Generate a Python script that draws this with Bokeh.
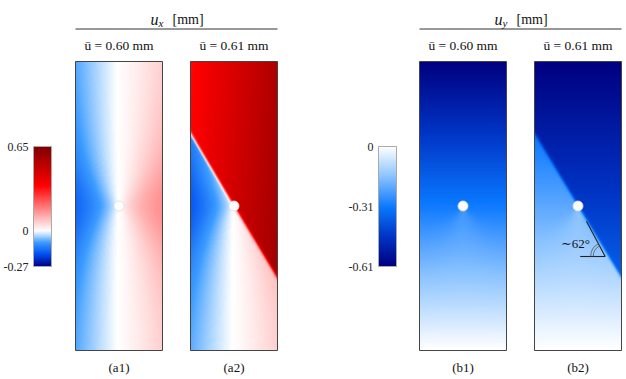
import numpy as np
from bokeh.plotting import figure
from bokeh.models import Range1d, LinearColorMapper
from bokeh.core.properties import value
from bokeh.embed import file_html
from bokeh.resources import INLINE

# ---------------- data ----------------
group_titles = ["u", "u"]
group_subs = ["x", "y"]
panel_titles = ["ū = 0.60 mm", "ū = 0.61 mm", "ū = 0.60 mm", "ū = 0.61 mm"]
panel_labels = ["(a1)", "(a2)", "(b1)", "(b2)"]
ux_ticks = [0.65, 0.0, -0.27]
ux_tick_labels = ["0.65", "0", "-0.27"]
uy_ticks = [0.0, -0.31, -0.61]
uy_tick_labels = ["0", "-0.31", "-0.61"]
ux_low, ux_high = -0.27, 0.65
uy_low, uy_high = -0.61, 0.0
ux_cmap_vals = [-0.27, -0.18, -0.09, 0.0, 0.12, 0.35, 0.65]
ux_cmap_cols = ["#00008b", "#0050f0", "#3c9cff", "#ffffff", "#ffa8a8", "#ff0000", "#800000"]
uy_cmap_vals = [-0.61, -0.46, -0.31, -0.15, 0.0]
uy_cmap_cols = ["#000080", "#0034c4", "#0a78ff", "#8cc4ff", "#ffffff"]
# field key values (mm)
ux1_left, ux1_right = -0.065, 0.05            # a1 edge values far from hole
ux1_amp_left, ux1_amp_right = 0.10, 0.12      # a1 hole wedge amplitudes
ux1_zero_s = 0.47                             # white stripe position
ux2_left_bottom, ux2_left_top = -0.06, -0.10  # a2 lower part, left edge
ux2_right = 0.05
ux2_block_base, ux2_block_dx, ux2_block_dy = 0.34, 0.20, 0.04  # a2 sliding block
uy1_top, uy1_bottom = -0.61, 0.0             # b1
uy1_hole_amp = 0.05
uy2_lower_top = -0.42                         # b2 lower part at top level
uy2_block_top, uy2_block_bottom = -0.61, -0.28
band_angle_deg = 59.0                         # measured band inclination
annot_angle_deg = 62.0                        # annotated angle
hole_s, hole_t = 0.5, 0.5                     # hole centre (fraction of width/height)

# ---------------- layout (page pixels) ----------------
W, H = 626, 379
panel_x = [75, 190, 419, 534]
panel_top, panel_bot = 61, 350
panel_w = 87
panel_h = panel_bot - panel_top
hole_r = 5.0

p = figure(width=W, height=H, output_backend="svg", toolbar_location=None,
           x_range=Range1d(0, W), y_range=Range1d(-H, 0),
           x_axis_location=None, y_axis_location=None, min_border=0)
p.grid.visible = False
p.outline_line_color = None
p.background_fill_color = "white"
p.border_fill_color = "white"


def make_palette(vals, cols, lo, hi, n=256):
    rgb = np.array([[int(c[i:i + 2], 16) for i in (1, 3, 5)] for c in cols], float)
    v = np.linspace(lo, hi, n)
    chans = [np.interp(v, vals, rgb[:, k]) for k in range(3)]
    return ["#%02x%02x%02x" % (int(round(r)), int(round(g)), int(round(b)))
            for r, g, b in zip(*chans)]


ux_mapper = LinearColorMapper(palette=make_palette(ux_cmap_vals, ux_cmap_cols, ux_low, ux_high),
                              low=ux_low, high=ux_high)
uy_mapper = LinearColorMapper(palette=make_palette(uy_cmap_vals, uy_cmap_cols, uy_low, uy_high),
                              low=uy_low, high=uy_high)

# specimen grid
nx, ny = panel_w * 2, panel_h * 2
X = (np.arange(nx) + 0.5) / 2.0
Y = (np.arange(ny) + 0.5) / 2.0
XX, YY = np.meshgrid(X, Y)
S, T = XX / panel_w, YY / panel_h
Xh, Yh = hole_s * panel_w, hole_t * panel_h
dx, dy = XX - Xh, YY - Yh
R = np.hypot(dx, dy) + 1e-9
cos_t = dx / R
sin_t = dy / R
phi = np.radians(band_angle_deg)
D = dx * np.sin(phi) + dy * np.cos(phi)   # signed distance to band (positive: upper-right block)
blend = 1.0 / (1.0 + np.exp(-D / 0.7))
grow = 1.0 - np.exp(-R / 20.0)
wedge = np.where(cos_t < 0, -ux1_amp_left, ux1_amp_right) * np.abs(cos_t) ** 1.6 * grow

# a1
ux_a1 = np.interp(S, [0, ux1_zero_s, 1], [ux1_left, 0.0, ux1_right]) + wedge
# a2
left_edge = ux2_left_bottom + (ux2_left_top - ux2_left_bottom) * T
lower = np.where(S < ux1_zero_s, left_edge * (1 - S / ux1_zero_s),
                 ux2_right * (S - ux1_zero_s) / (1 - ux1_zero_s)) + wedge
block = ux2_block_base + ux2_block_dx * S + ux2_block_dy * (1 - T)
ux_a2 = lower + (block - lower) * blend
# b1
below = uy1_hole_amp * np.clip(-sin_t, 0, None) ** 4 * np.exp(-(R - hole_r) / 40.0)
uy_b1 = uy1_bottom + (uy1_top - uy1_bottom) * T + below
# b2
lower_y = uy2_lower_top * T + below
block_y = uy2_block_bottom + (uy2_block_top - uy2_block_bottom) * T
uy_b2 = lower_y + (block_y - lower_y) * blend

fields = [(ux_a1, ux_mapper), (ux_a2, ux_mapper), (uy_b1, uy_mapper), (uy_b2, uy_mapper)]
for (fld, mapper), x0 in zip(fields, panel_x):
    p.image(image=[fld], x=x0, y=-panel_bot, dw=panel_w, dh=panel_h, color_mapper=mapper)
    p.quad(left=x0, right=x0 + panel_w, bottom=-panel_bot, top=-panel_top,
           fill_color=None, line_color="#444444", line_width=1)

# holes
p.scatter(x=[x0 + Xh for x0 in panel_x], y=[-(panel_bot - Yh)] * 4, size=2 * hole_r,
          fill_color="white", line_color="#dddddd", line_width=0.8)

SERIF = value("'Liberation Serif', 'DejaVu Serif', serif")

# group headers
for gx0, title, sub in [(75, group_titles[0], group_subs[0]), (419, group_titles[1], group_subs[1])]:
    cx = gx0 + (115 + panel_w) / 2
    p.text(x=[cx - 26], y=[-19], text=[title], text_font=SERIF, text_font_style="italic",
           text_font_size="16px", text_baseline="alphabetic", text_align="left", text_color="#111111")
    p.text(x=[cx - 18], y=[-22], text=[sub], text_font=SERIF, text_font_style="italic",
           text_font_size="11px", text_baseline="alphabetic", text_align="left", text_color="#111111")
    p.text(x=[cx - 4], y=[-19], text=["[mm]"], text_font=SERIF,
           text_font_size="14px", text_baseline="alphabetic", text_align="left", text_color="#111111")
    p.segment(x0=[gx0], x1=[gx0 + 115 + panel_w], y0=[-28.5], y1=[-28.5], line_color="#333333", line_width=1)

# panel titles and labels
p.text(x=[x0 + panel_w / 2 for x0 in panel_x], y=[-45] * 4, text=panel_titles, text_font=SERIF,
       text_font_size="13.5px", text_baseline="middle", text_align="center", text_color="#111111")
p.text(x=[x0 + panel_w / 2 for x0 in panel_x], y=[-367] * 4, text=panel_labels, text_font=SERIF,
       text_font_size="13px", text_baseline="middle", text_align="center", text_color="#111111")

# colour bars
cb_top, cb_bot, cb_w = 146, 266, 18
for cbx, lo, hi, mapper, ticks, labels in [
        (33, ux_low, ux_high, ux_mapper, ux_ticks, ux_tick_labels),
        (378, uy_low, uy_high, uy_mapper, uy_ticks, uy_tick_labels)]:
    grad = np.linspace(lo, hi, 240).reshape(-1, 1)
    p.image(image=[grad], x=cbx, y=-cb_bot, dw=cb_w, dh=cb_bot - cb_top, color_mapper=mapper)
    p.quad(left=cbx, right=cbx + cb_w, bottom=-cb_bot, top=-cb_top,
           fill_color=None, line_color="#aaaaaa", line_width=1)
    ty = [-(cb_bot - (v - lo) / (hi - lo) * (cb_bot - cb_top)) for v in ticks]
    p.text(x=[cbx - 5] * len(ticks), y=ty, text=labels, text_font=SERIF,
           text_font_size="12px", text_baseline="middle", text_align="right", text_color="#222222")

# angle annotation in (b2)
vx, vy = 604.7, 256
a = np.radians(annot_angle_deg)
p.segment(x0=[vx, vx], y0=[-vy, -vy], x1=[vx - 40 * np.cos(a), vx - 25], y1=[-vy + 40 * np.sin(a), -vy],
          line_color="#222222", line_width=1.1)
p.arc(x=[vx, vx], y=[-vy, -vy], radius=[12, 14.5], start_angle=180 - annot_angle_deg, end_angle=180,
      start_angle_units="deg", end_angle_units="deg", line_color="#555555", line_width=0.8)
p.text(x=[575], y=[-243], text=["∼62°"], text_font=SERIF, text_font_size="13px",
       text_baseline="middle", text_align="center", text_color="#111111")

open("out.html", "w").write(file_html(p, INLINE))
